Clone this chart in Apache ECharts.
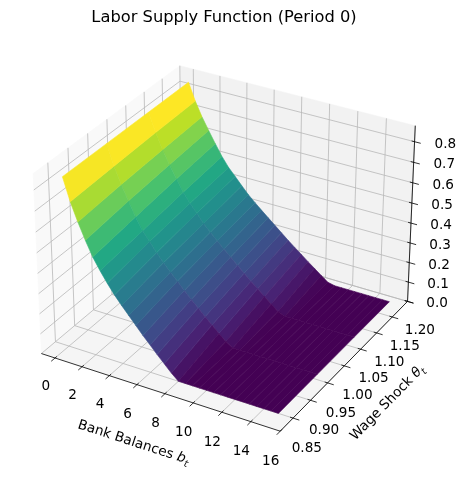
<!DOCTYPE html>
<html>
<head>
<meta charset="utf-8">
<script src="https://cdn.jsdelivr.net/npm/echarts@6/dist/echarts.min.js"></script>
<style>html,body{margin:0;padding:0;background:#fff}#c{width:464px;height:479px}</style>
</head>
<body>
<div id="c"></div>
<script>
// ---------------- data ----------------
const bankBalances = [0,0.5,1,1.5,2,2.5,3,3.5,4,4.5,5,5.5,6,6.5,7,7.5,8,8.5,9,9.5,10,10.5,11,11.5,12,12.5,13,13.5,14,14.5,15];
const wageShocks = [0.850, 0.962, 1.074, 1.186];
const laborTheta0850 = [0.830,0.721,0.634,0.556,0.485,0.429,0.378,0.331,0.290,0.251,0.212,0.173,0.137,0.100,0.065,0.030,0,0,0,0,0,0,0,0,0,0,0,0,0,0,0];
const laborTheta0962 = [0.830,0.731,0.651,0.580,0.512,0.454,0.410,0.364,0.324,0.287,0.252,0.217,0.182,0.149,0.116,0.084,0.052,0.022,0,0,0,0,0,0,0,0,0,0,0,0,0];
const laborTheta1074 = [0.830,0.739,0.664,0.599,0.537,0.480,0.434,0.393,0.352,0.317,0.284,0.252,0.221,0.189,0.158,0.128,0.099,0.070,0.042,0.014,0,0,0,0,0,0,0,0,0,0,0];
const laborTheta1186 = [0.830,0.745,0.675,0.615,0.557,0.502,0.455,0.418,0.380,0.343,0.312,0.282,0.253,0.224,0.195,0.166,0.139,0.112,0.085,0.059,0.033,0.008,0,0,0,0,0,0,0,0,0];
const xTicks = [0,2,4,6,8,10,12,14,16];
const yTicks = [0.85,0.90,0.95,1.00,1.05,1.10,1.15,1.20];
const zTicks = [0.0,0.1,0.2,0.3,0.4,0.5,0.6,0.7,0.8];
const xTickLabels = ['0','2','4','6','8','10','12','14','16'];
const yTickLabels = ['0.85','0.90','0.95','1.00','1.05','1.10','1.15','1.20'];
const zTickLabels = ['0.0','0.1','0.2','0.3','0.4','0.5','0.6','0.7','0.8'];
const titleText = 'Labor Supply Function (Period 0)';

const laborRows = [laborTheta0850, laborTheta0962, laborTheta1074, laborTheta1186];

// ---------------- 3D view (matplotlib-like perspective) ----------------
const LIM = {x:[-1.02,16.0], y:[0.814,1.20], z:[0,0.877]};
const kA = 1.8294640721620434/Math.sqrt(41);
const A = [4*kA, 4*kA, 3*kA];
const Rc = A.map(a => a/2);
const ELEV = 30*Math.PI/180, AZIM = -60*Math.PI/180, DIST = 10;
const pv = [Math.cos(ELEV)*Math.cos(AZIM), Math.cos(ELEV)*Math.sin(AZIM), Math.sin(ELEV)];
const EYE = [Rc[0]+DIST*pv[0], Rc[1]+DIST*pv[1], Rc[2]+DIST*pv[2]];
const norm3 = a => { const l = Math.hypot(a[0],a[1],a[2]); return [a[0]/l,a[1]/l,a[2]/l]; };
const cross = (a,b) => [a[1]*b[2]-a[2]*b[1], a[2]*b[0]-a[0]*b[2], a[0]*b[1]-a[1]*b[0]];
const dot = (a,b) => a[0]*b[0]+a[1]*b[1]+a[2]*b[2];
const Wv = norm3(pv);
const Uv = norm3(cross([0,0,1], Wv));
const Vv = cross(Wv, Uv);
function proj(x,y,z){
  const P = [(x-LIM.x[0])/(LIM.x[1]-LIM.x[0])*A[0], (y-LIM.y[0])/(LIM.y[1]-LIM.y[0])*A[1], (z-LIM.z[0])/(LIM.z[1]-LIM.z[0])*A[2]];
  const q = [P[0]-EYE[0], P[1]-EYE[1], P[2]-EYE[2]];
  const qw = dot(Wv,q);
  return [dot(Uv,q)/(-qw), dot(Vv,q)/(-qw), qw];
}
// 2D view box of the projected plane
const SCALE = 2395, CX = 227.7, CY = 240, WIDTH = 464, HEIGHT = 479;

// ---------------- viridis ----------------
const VIRIDIS = ['#440154','#482475','#414487','#355f8d','#2a788e','#21918c','#22a884','#44bf70','#7ad151','#bddf26','#fde725'];
const hex2rgb = h => [parseInt(h.slice(1,3),16), parseInt(h.slice(3,5),16), parseInt(h.slice(5,7),16)];
const VRGB = VIRIDIS.map(hex2rgb);
function viridis(t){
  t = Math.max(0, Math.min(1, t));
  const s = t*(VRGB.length-1); const i = Math.min(Math.floor(s), VRGB.length-2); const f = s-i;
  const c = [0,1,2].map(k => Math.round(VRGB[i][k]*(1-f) + VRGB[i+1][k]*f));
  return 'rgb('+c.join(',')+')';
}

// ---------------- surface cells ----------------
const cells = [];
for (let i = 0; i < wageShocks.length-1; i++) {
  for (let j = 0; j < bankBalances.length-1; j++) {
    const corners = [
      [bankBalances[j],   wageShocks[i],   laborRows[i][j]],
      [bankBalances[j+1], wageShocks[i],   laborRows[i][j+1]],
      [bankBalances[j+1], wageShocks[i+1], laborRows[i+1][j+1]],
      [bankBalances[j],   wageShocks[i+1], laborRows[i+1][j]]
    ];
    const avg = corners.reduce((s,c) => s + c[2], 0)/4;
    const depth = corners.reduce((s,c) => s + proj(c[0],c[1],c[2])[2], 0)/4;
    cells.push({corners, avg, depth});
  }
}
const vmin = Math.min(...cells.map(c => c.avg)), vmax = Math.max(...cells.map(c => c.avg));
cells.forEach(c => c.color = viridis((c.avg - vmin)/(vmax - vmin)));
cells.sort((a,b) => a.depth - b.depth);

const FONT = 'DejaVu Sans';
const TICK_FS = 13.6;

function frameItem(params, api){
  const c = (x,y,z) => { const p = proj(x,y,z); return api.coord([p[0], p[1]]); };
  const [x0,x1] = LIM.x, [y0,y1] = LIM.y, [z0,z1] = LIM.z;
  const rx = x1-x0, ry = y1-y0, rz = z1-z0;
  const ch = [];
  const pane = (pts, fill) => ({type:'polygon', shape:{points:pts}, style:{fill, stroke:fill, lineWidth:0.5}});
  ch.push(pane([c(x0,y0,z0),c(x0,y1,z0),c(x0,y1,z1),c(x0,y0,z1)], 'rgb(249,249,249)'));
  ch.push(pane([c(x0,y1,z0),c(x1,y1,z0),c(x1,y1,z1),c(x0,y1,z1)], 'rgb(242,242,242)'));
  ch.push(pane([c(x0,y0,z0),c(x1,y0,z0),c(x1,y1,z0),c(x0,y1,z0)], 'rgb(245,245,245)'));
  const gl = pts => ({type:'polyline', shape:{points:pts}, style:{stroke:'#b8b8b8', lineWidth:0.8, fill:null}});
  xTicks.forEach(t => ch.push(gl([c(t,y0,z0),c(t,y1,z0),c(t,y1,z1)])));
  yTicks.forEach(t => ch.push(gl([c(x1,t,z0),c(x0,t,z0),c(x0,t,z1)])));
  zTicks.forEach(t => ch.push(gl([c(x0,y0,t),c(x0,y1,t),c(x1,y1,t)])));
  const ln = (a,b) => ({type:'line', shape:{x1:a[0],y1:a[1],x2:b[0],y2:b[1]}, style:{stroke:'#000', lineWidth:0.8}});
  // axis lines
  ch.push(ln(c(x0,y0,z0), c(x1,y0,z0)));
  ch.push(ln(c(x1,y0,z0), c(x1,y1,z0)));
  ch.push(ln(c(x1,y1,z0), c(x1,y1,z1)));
  // ticks
  xTicks.forEach(t => ch.push(ln(c(t,y0+0.012*ry,z0), c(t,y0-0.025*ry,z0))));
  yTicks.forEach(t => ch.push(ln(c(x1-0.012*rx,t,z0), c(x1+0.025*rx,t,z0))));
  zTicks.forEach(t => ch.push(ln(c(x1-0.012*rx,y1,t), c(x1+0.025*rx,y1,t))));
  const txt = (p, text, extra) => Object.assign({type:'text', x:p[0], y:p[1],
    style:{text, fill:'#000', fontFamily:FONT, fontSize:TICK_FS, align:'center', verticalAlign:'middle'}}, extra||{});
  xTicks.forEach((t,k) => ch.push(txt(c(t, y0-0.067*ry, z0-0.117*rz), xTickLabels[k])));
  yTicks.forEach((t,k) => ch.push(txt(c(x1+0.057*rx, t, z0-0.148*rz), yTickLabels[k])));
  zTicks.forEach((t,k) => ch.push(txt(c(x1+0.105*rx, y1+0.040*ry, t), zTickLabels[k])));
  // axis labels
  const angle = (a,b) => Math.atan2(-(b[1]-a[1]), b[0]-a[0]);
  const rich = {
    a:{fontFamily:FONT, fontSize:TICK_FS, fill:'#000'},
    i:{fontFamily:FONT, fontSize:TICK_FS, fontStyle:'italic', fill:'#000'},
    s:{fontFamily:FONT, fontSize:TICK_FS*0.7, fontStyle:'italic', fill:'#000', padding:[9,0,0,0]}
  };
  const lab = (p, text, rot) => ({type:'text', x:p[0], y:p[1], rotation:rot,
    style:{text, rich, fill:'#000', fontFamily:FONT, fontSize:TICK_FS, align:'center', verticalAlign:'middle'}});
  ch.push(lab(c((x0+x1)/2, y0-0.168*ry, z0-0.161*rz), '{a|Bank Balances }{i|b}{s|t}', angle(c(x0,y0,z0), c(x1,y0,z0))));
  ch.push(lab(c(x1+0.171*rx, (y0+y1)/2, z0-0.152*rz), '{a|Wage Shock }{i|θ}{s|t}', angle(c(x1,y0,z0), c(x1,y1,z0))));
  ch.push(lab(c(x1+0.205*rx, y1+0.110*ry, (z0+z1)/2), '{a|Labor }{i|l}{s|t}', angle(c(x1,y1,z0), c(x1,y1,z1))));
  return {type:'group', children:ch};
}

function surfaceItem(params, api){
  const cell = cells[params.dataIndex];
  const pts = cell.corners.map(k => { const p = proj(k[0],k[1],k[2]); return api.coord([p[0], p[1]]); });
  return {type:'polygon', shape:{points:pts}, style:{fill:cell.color, stroke:cell.color, lineWidth:0.6}};
}

const chart = echarts.init(document.getElementById('c'), null, {renderer:'canvas'});
chart.setOption({
  animation:false,
  backgroundColor:'#fff',
  title:{text:titleText, left:224, top:10, padding:0, textAlign:'center',
    textStyle:{fontFamily:FONT, fontSize:16.3, fontWeight:'normal', color:'#000'}},
  grid:{left:0, top:0, width:WIDTH, height:HEIGHT, containLabel:false},
  xAxis:{type:'value', min:-CX/SCALE, max:(WIDTH-CX)/SCALE, show:false},
  yAxis:{type:'value', min:-(HEIGHT-CY)/SCALE, max:CY/SCALE, show:false},
  tooltip:{show:false},
  series:[
    {type:'custom', name:'frame', coordinateSystem:'cartesian2d', z:1, silent:true, clip:false,
     data:[[0,0]], renderItem:frameItem},
    {type:'custom', name:'labor', coordinateSystem:'cartesian2d', z:2, silent:true, clip:false,
     data:cells.map((c,k) => [k, c.avg]), renderItem:surfaceItem}
  ]
});
</script>
</body>
</html>
